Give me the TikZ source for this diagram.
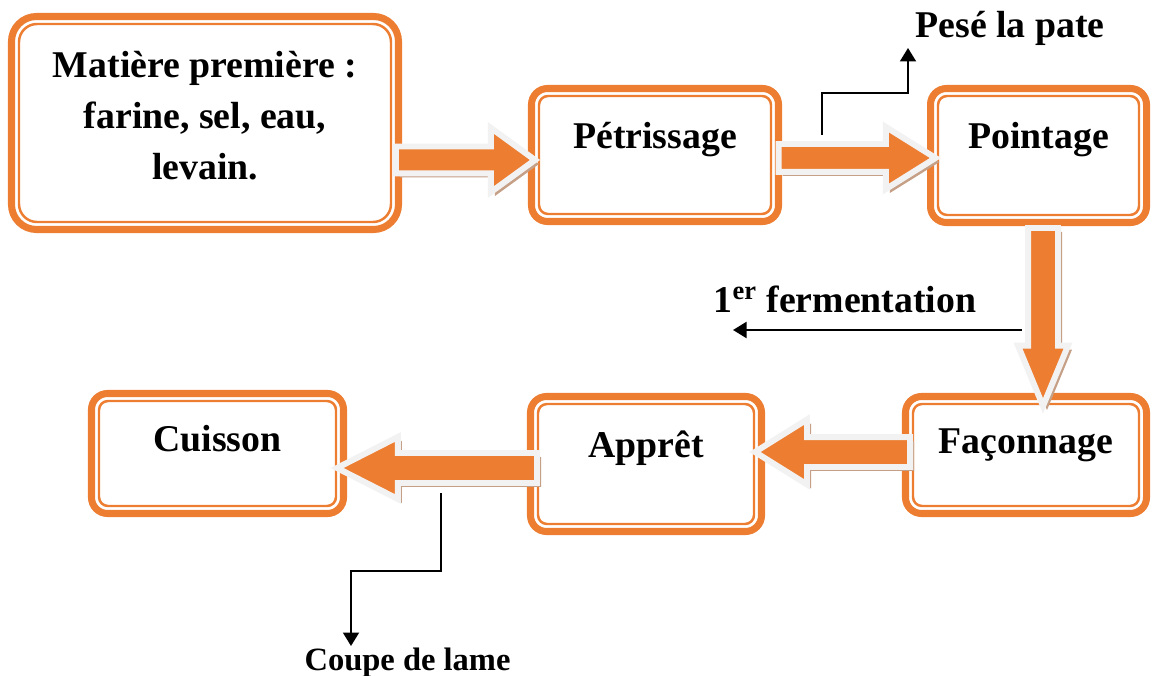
\documentclass[tikz,border=0pt]{standalone}
\usepackage{fontspec}
\setmainfont{Liberation Serif}
\usetikzlibrary{arrows.meta,positioning,calc,shapes.arrows,shadows}
\definecolor{oc}{RGB}{237,125,49}
\definecolor{wc}{RGB}{242,242,242}
\definecolor{sc}{RGB}{198,160,134}
\tikzset{stepbox/.style={draw=oc,line width=4pt,rounded corners=.32cm,outer sep=0pt,inner sep=0pt,align=center},
 tb/.style={text height=.55cm,text depth=#1},
 inl/.style={draw=oc,line width=1.4pt},
 blk/.style={single arrow,anchor=tail,draw=wc,fill=oc,line width=3.4pt,inner sep=.21cm,outer sep=0pt,single arrow head indent=0pt,
  drop shadow={shadow xshift=.08cm,shadow yshift=-.08cm,fill=sc,opacity=1}},
 lnk/.style={line width=1.1pt,-{Triangle[length=.27cm,width=.32cm]}},
 every node/.style={font=\fontsize{21.5}{29}\selectfont\bfseries}}
\begin{document}
\begin{tikzpicture}
\useasboundingbox (0,0) rectangle (23.04,-13.52);
% etapes
\node[stepbox,rounded corners=.5cm,text depth=.3cm,minimum width=7.74cm,minimum height=4.26cm] (mat) at (4.10,-2.46) {Matière première :\\farine, sel, eau,\\levain.};
\node[stepbox,tb=.79cm,minimum width=4.94cm,minimum height=2.66cm] (pet) at (13.10,-3.10) {Pétrissage};
\node[stepbox,tb=.81cm,minimum width=4.32cm,minimum height=2.68cm] (poi) at (20.77,-3.11) {Pointage};
\node[stepbox,tb=.63cm,minimum width=4.82cm,minimum height=2.34cm] (fac) at (20.52,-9.10) {Façonnage};
\node[stepbox,tb=.83cm,minimum width=4.62cm,minimum height=2.70cm] (app) at (12.92,-9.28) {Apprêt};
\node[stepbox,tb=.65cm,minimum width=5.04cm,minimum height=2.40cm] (cui) at (4.35,-9.07) {Cuisson};
\foreach \n/\r in {mat/.36,pet/.18,poi/.18,fac/.18,app/.18,cui/.18}
  \draw[inl,rounded corners=\r cm] ([shift={(.15,-.15)}]\n.north west) rectangle ([shift={(-.15,.15)}]\n.south east);
% fleches
\node[blk,minimum height=2.78cm,single arrow head extend=.37cm,single arrow tip angle=72] (a1) at ([shift={(-.05,-.74)}]mat.east) {};
\node[blk,inner sep=.22cm,minimum height=3.14cm,single arrow head extend=.34cm,single arrow tip angle=64] (a2) at ([yshift=-.06cm]pet.east) {};
\node[blk,inner sep=.24cm,shape border rotate=270,minimum height=3.56cm,single arrow head extend=.2cm,single arrow tip angle=45] (a3) at ([shift={(.09,-.11)}]poi.south) {};
\node[blk,inner sep=.24cm,shape border rotate=180,minimum height=3.10cm,single arrow head extend=.35cm,single arrow tip angle=64] (a4) at ([shift={(.09,.06)}]fac.west) {};
\node[blk,inner sep=.24cm,shape border rotate=180,minimum height=4.00cm,single arrow head extend=.32cm,single arrow tip angle=54] (a5) at ([shift={(.13,-.08)}]app.west) {};
% annotations
\node[anchor=base] (pese) at (20.20,-0.76) {Pesé la pate};
\node[anchor=base] (ferm) at (16.90,-6.26) {1\textsuperscript{er} fermentation};
\node[anchor=base,font=\fontsize{18.5}{22}\selectfont\bfseries] (coupe) at (8.15,-13.40) {Coupe de lame};
\coordinate (p1) at (16.44,-2.70);
\coordinate (p2) at (18.16,-0.96);
\coordinate (f1) at (20.44,-6.60);
\coordinate (f2) at (14.66,-6.60);
\coordinate (c1) at (8.82,-9.86);
\coordinate (c2) at (7.02,-12.92);
\draw[lnk] (p1) -- ++(0,.84) -| (p2);
\draw[lnk] (f1) -- (f2);
\draw[lnk] (c1) -- ++(0,-1.56) -| (c2);
\end{tikzpicture}
\end{document}
